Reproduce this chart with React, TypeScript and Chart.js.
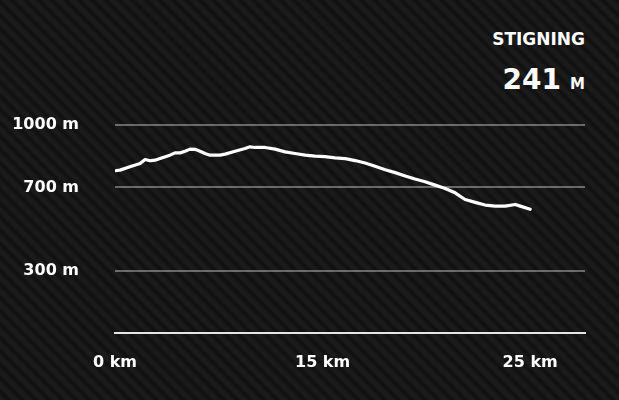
import React, { useEffect, useRef } from "react";
import { Chart, registerables } from "chart.js";

Chart.register(...registerables);

// Distance along the route (km) and elevation (m)
const distanceKm = [
  0, 0.3, 0.9, 1.51, 1.81, 2.11, 2.41, 2.71, 3.31, 3.61, 3.92, 4.22, 4.52, 4.82,
  5.12, 5.42, 5.72, 6.33, 6.63, 7.23, 7.83, 8.13, 8.43, 9.04, 9.64, 10.24, 10.84,
  11.45, 12.05, 12.65, 13.25, 13.86, 14.46, 15.06, 15.66, 16.27, 16.87, 17.47,
  18.07, 18.67, 19.28, 19.88, 20.48, 21.08, 21.69, 22.29, 22.89, 23.49, 24.1,
  24.4, 25.0,
];
const elevationM = [
  780, 783, 799, 815, 834, 828, 831, 839, 855, 866, 866, 874, 884, 883,
  874, 863, 855, 855, 860, 874, 887, 895, 892, 892, 884, 871, 863,
  855, 850, 848, 842, 838, 829, 817, 802, 785, 771, 755,
  740, 727, 711, 695, 674, 642, 628, 615, 610, 610, 618,
  610, 595,
];

const yTickValues = [300, 700, 1000];
const yTickLabels = ["300 m", "700 m", "1000 m"];
const xTickValues = [0, 12.5, 25];
const xTickLabels = ["0 km", "15 km", "25 km"];
const xAxisMax = 28.3;
const yAxisMax = 1000;

const statTitle = "STIGNING";
const statValue = "241";
const statUnit = "M";

const FONT = "'DejaVu Sans', sans-serif";

export default function App() {
  const canvasRef = useRef<HTMLCanvasElement | null>(null);

  useEffect(() => {
    document.body.style.margin = "0";
    const canvas = canvasRef.current;
    if (!canvas) return;
    const points = distanceKm.map((d, i) => ({ x: d, y: elevationM[i] }));
    const chart = new Chart(canvas, {
      type: "line",
      data: {
        datasets: [
          {
            data: points,
            borderColor: "#ffffff",
            borderWidth: 3.2,
            pointRadius: 0,
            tension: 0,
            fill: false,
            borderCapStyle: "round",
            borderJoinStyle: "round",
          },
        ],
      },
      options: {
        animation: false,
        responsive: false,
        maintainAspectRatio: false,
        layout: { padding: { top: 125, right: 34, bottom: 0, left: 0 } },
        plugins: { legend: { display: false }, tooltip: { enabled: false } },
        scales: {
          x: {
            type: "linear",
            min: 0,
            max: xAxisMax,
            afterFit: (s: any) => {
              s.height = 67;
            },
            afterBuildTicks: (s: any) => {
              s.ticks = xTickValues.map((v) => ({ value: v }));
            },
            ticks: {
              color: "#ffffff",
              font: { family: FONT, size: 16, weight: "bold" },
              padding: 20,
              maxRotation: 0,
              autoSkip: false,
              callback: (v: any) => {
                const i = xTickValues.indexOf(Number(v));
                return i >= 0 ? xTickLabels[i] : "";
              },
            },
            grid: { display: false, drawTicks: false },
            border: { display: true, color: "#e6e6e6", width: 2 },
          },
          y: {
            type: "linear",
            min: 0,
            max: yAxisMax,
            afterFit: (s: any) => {
              s.width = 115;
            },
            afterBuildTicks: (s: any) => {
              s.ticks = yTickValues.map((v) => ({ value: v }));
            },
            ticks: {
              color: "#ffffff",
              font: { family: FONT, size: 16, weight: "bold" },
              padding: 36,
              autoSkip: false,
              callback: (v: any) => {
                const i = yTickValues.indexOf(Number(v));
                return i >= 0 ? yTickLabels[i] : "";
              },
            },
            grid: {
              color: "rgba(255,255,255,0.36)",
              lineWidth: 2,
              drawTicks: false,
            },
            border: { display: false },
          },
        },
      },
    });
    return () => chart.destroy();
  }, []);

  return (
    <div
      style={{
        position: "absolute",
        left: 0,
        top: 0,
        width: 619,
        height: 400,
        overflow: "hidden",
        backgroundColor: "#151515",
        backgroundImage:
          "repeating-linear-gradient(45deg, #1b1b1b 0px, #1a1a1a 3px, #111111 5.5px, #111111 7px, #1b1b1b 9.5px)",
        fontFamily: FONT,
      }}
    >
      <div
        style={{
          position: "absolute",
          right: 34,
          top: 31,
          fontSize: 17,
          lineHeight: "17px",
          fontWeight: "bold",
          color: "#ffffff",
        }}
      >
        {statTitle}
      </div>
      <div
        style={{
          position: "absolute",
          right: 34,
          top: 66,
          fontSize: 28,
          lineHeight: "28px",
          fontWeight: "bold",
          color: "#ffffff",
          whiteSpace: "nowrap",
        }}
      >
        {statValue}
        <span style={{ fontSize: 15, marginLeft: 9 }}>{statUnit}</span>
      </div>
      <canvas
        ref={canvasRef}
        width={619}
        height={400}
        style={{ position: "absolute", left: 0, top: 0, width: 619, height: 400 }}
      />
    </div>
  );
}
